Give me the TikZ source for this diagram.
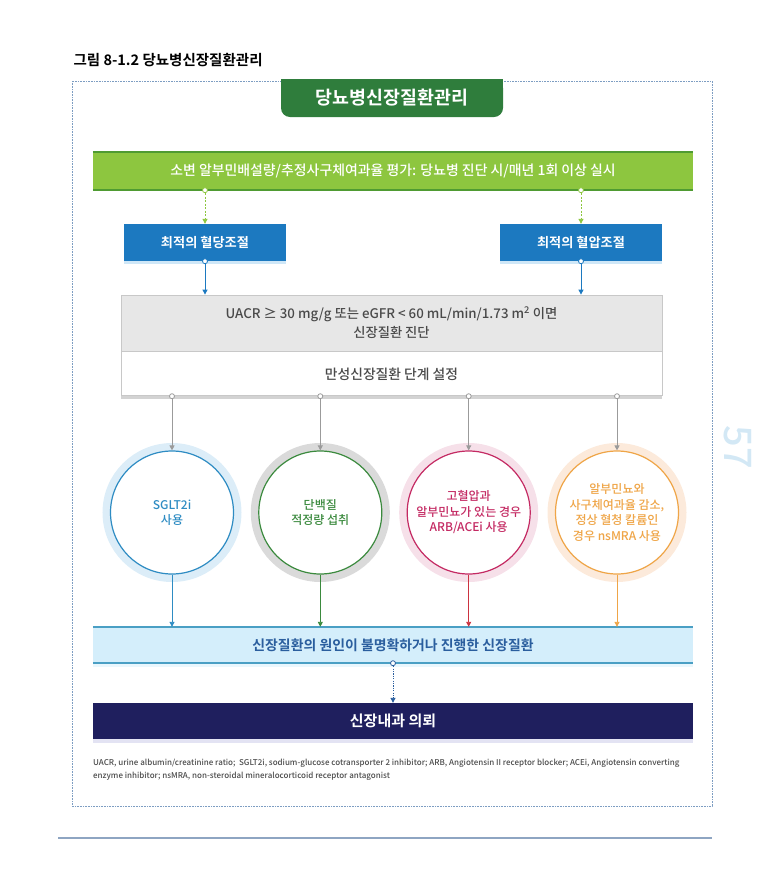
\documentclass[tikz,border=0pt]{standalone}
\usepackage{fontspec}
\setmainfont{Noto Sans CJK KR Medium}[BoldFont={Noto Sans CJK KR Bold}]
\usetikzlibrary{arrows.meta,positioning}
\definecolor{tabgreen}{HTML}{2F7D3C}
\definecolor{leaf}{HTML}{8DC63F}
\definecolor{leafdeep}{HTML}{4F9B32}
\definecolor{sky}{HTML}{1C79C0}
\definecolor{skyshade}{HTML}{CFE7F7}
\definecolor{smoke}{HTML}{E7E7E7}
\definecolor{smokeline}{HTML}{C8C8C8}
\definecolor{slate}{HTML}{4A4A4A}
\definecolor{wire}{HTML}{9B9B9B}
\definecolor{sgltc}{HTML}{2E8CC3}
\definecolor{sgltglow}{HTML}{DCEDF8}
\definecolor{protc}{HTML}{3B8A3E}
\definecolor{protglow}{HTML}{DADADA}
\definecolor{arbc}{HTML}{C42A63}
\definecolor{arbglow}{HTML}{F6E0E9}
\definecolor{arbarrow}{HTML}{CC3340}
\definecolor{mrac}{HTML}{EFA547}
\definecolor{mraglow}{HTML}{FCEADB}
\definecolor{ice}{HTML}{D4EEFB}
\definecolor{iceline}{HTML}{4A9FC4}
\definecolor{icetext}{HTML}{2A5E9E}
\definecolor{navy}{HTML}{1F1F5E}
\definecolor{navyshade}{HTML}{E3E3F3}
\definecolor{frameblue}{HTML}{7D9DC2}
\definecolor{pagerule}{HTML}{8EA5C2}
\definecolor{pageno}{HTML}{D3E8F5}

\begin{document}
\begin{tikzpicture}[
  x=1pt,y=-1pt,
  font=\fontsize{13}{15}\selectfont,
  band/.style={minimum width=600pt,minimum height=#1,inner sep=0pt,
               align=center},
  ctrl/.style={fill=sky,text=white,font=\bfseries\fontsize{13.2}{15}\selectfont,
               minimum width=162pt,minimum height=37pt,inner sep=0pt},
  panel/.style={draw=smokeline,line width=0.8pt,minimum width=541pt,
                inner sep=0pt,align=center,text=slate},
  tx/.style={circle,fill=white,draw=#1,line width=1.2pt,minimum size=123pt,
             inner sep=2pt,align=center,text=#1,
             font=\fontsize{12}{15.5}\selectfont},
  glow/.style={preaction={draw=#1,line width=16pt}},
  knot/.style={circle,draw=#1,fill=white,line width=0.8pt,
               minimum size=5pt,inner sep=0pt},
  arr/.style={-{Triangle[width=5pt,length=5pt]},line width=0.9pt,draw=#1},
  dasharr/.style={arr=#1,dash pattern=on 2pt off 1.5pt},
]
\useasboundingbox (0,0) rectangle (768,895);

% Figure caption and frame
\node[anchor=west,font=\bfseries\fontsize{14.5}{16}\selectfont] (caption)
  at (70,60) {그림 8-1.2 당뇨병신장질환관리};
\draw[frameblue,line width=0.8pt,dash pattern=on 0.8pt off 0.8pt]
  (72,81) rectangle (712,806);

% Header tab
\fill[tabgreen] (281,79) rectangle (503,96);
\node[fill=tabgreen,rounded corners=9pt,minimum width=222pt,minimum height=38pt,
      text=white,font=\bfseries\fontsize{18.4}{20}\selectfont] (head)
  at (392,98) {당뇨병신장질환관리};

% Screening bar
\node[band=38pt,fill=leaf,text=white,font=\fontsize{13.9}{15}\selectfont]
  (screen) at (393,171)
  {소변 알부민배설량/추정사구체여과율 평가: 당뇨병 진단 시/매년 1회 이상 실시};
\draw[leafdeep,line width=1.5pt] (screen.north west) -- (screen.north east);
\draw[leafdeep,line width=1.5pt] (screen.south west) -- (screen.south east);

% Glucose / blood pressure control
\node[ctrl] (gluc) at (205,242.5) {최적의 혈당조절};
\node[ctrl] (bp) at (581,242.5) {최적의 혈압조절};
\fill[skyshade] (gluc.south west) rectangle ([yshift=-3pt]gluc.south east);
\fill[skyshade] (bp.south west) rectangle ([yshift=-3pt]bp.south east);

\node[knot=leaf] (s1) at (gluc.north |- screen.south) {};
\node[knot=leaf] (s2) at (bp.north |- screen.south) {};
\draw[dasharr=leaf] (s1) -- (gluc.north);
\draw[dasharr=leaf] (s2) -- (bp.north);

% Diagnosis and staging
\node[panel,fill=smoke,minimum height=56pt,font=\fontsize{13.3}{19}\selectfont]
  (diag) at (391.5,323)
  {UACR ≥ 30 mg/g 또는 eGFR < 60 mL/min/1.73 m\textsuperscript{2} 이면\\신장질환 진단};
\node[panel,fill=white,minimum height=44pt,below=0pt of diag,
      font=\fontsize{13.8}{15}\selectfont] (stage)
  {만성신장질환 단계 설정};
\fill[smokeline!80] (stage.south west) rectangle ([yshift=-3pt]stage.south east);

\node[knot=sky] (g1) at (gluc.south) {};
\node[knot=sky] (g2) at (bp.south) {};
\draw[arr=sky] (g1) -- (g1 |- diag.north);
\draw[arr=sky] (g2) -- (g2 |- diag.north);

% Treatment circles
\node[tx=sgltc,glow=sgltglow] (sglt) at (172,512.5) {SGLT2i\\사용};
\node[tx=protc,glow=protglow] (prot) at (320.3,512.5) {단백질\\적정량 섭취};
\node[tx=arbc,glow=arbglow] (arb) at (468.7,512.5)
  {고혈압과\\알부민뇨가 있는 경우\\ARB/ACEi 사용};
\node[tx=mrac,glow=mraglow] (mra) at (617,512.5)
  {알부민뇨와\\사구체여과율 감소,\\정상 혈청 칼륨인\\경우 nsMRA 사용};

\foreach \c/\n in {sglt/1,prot/2,arb/3,mra/4}{
  \node[knot=wire] (t\n) at (\c.north |- stage.south) {};
  \draw[arr=wire] (t\n) -- (\c.north);
}

% Cause unclear or advanced
\node[band=36pt,fill=ice,text=icetext,font=\bfseries\fontsize{13.9}{15}\selectfont]
  (cause) at (393,645) {신장질환의 원인이 불명확하거나 진행한 신장질환};
\fill[ice!50] (cause.south west) rectangle ([yshift=-4pt]cause.south east);
\draw[iceline,line width=1.5pt] (cause.north west) -- (cause.north east);
\draw[iceline,line width=1.5pt] (cause.south west) -- (cause.south east);

\draw[arr=sgltc] (sglt.south) -- (sglt.south |- cause.north);
\draw[arr=protc] (prot.south) -- (prot.south |- cause.north);
\draw[arr=arbarrow] (arb.south) -- (arb.south |- cause.north);
\draw[arr=mrac] (mra.south) -- (mra.south |- cause.north);

% Referral
\node[band=36pt,fill=navy,text=white,font=\bfseries\fontsize{15}{16}\selectfont]
  (refer) at (393,721) {신장내과 의뢰};
\fill[navyshade] (refer.south west) rectangle ([yshift=-4pt]refer.south east);
\node[knot=icetext] (c1) at (cause.south) {};
\draw[arr=icetext,dash pattern=on 1.2pt off 1.2pt] (c1) -- (refer.north);

% Abbreviations
\node[anchor=north west,align=left,inner sep=0pt,text=slate,
      font=\fontsize{8}{13}\selectfont] (abbr) at (93,759)
  {UACR, urine albumin/creatinine ratio;\ \ SGLT2i, sodium-glucose cotransporter 2 inhibitor; ARB, Angiotensin II receptor blocker; ACEi, Angiotensin converting\\
   enzyme inhibitor; nsMRA, non-steroidal mineralocorticoid receptor antagonist};

% Page rule and number
\draw[pagerule,line width=1.5pt] (58,838) -- (712,838);
\node[rotate=-90,text=pageno,font=\fontsize{38}{38}\selectfont] (pagenum)
  at (738,447) {57};

\end{tikzpicture}
\end{document}
